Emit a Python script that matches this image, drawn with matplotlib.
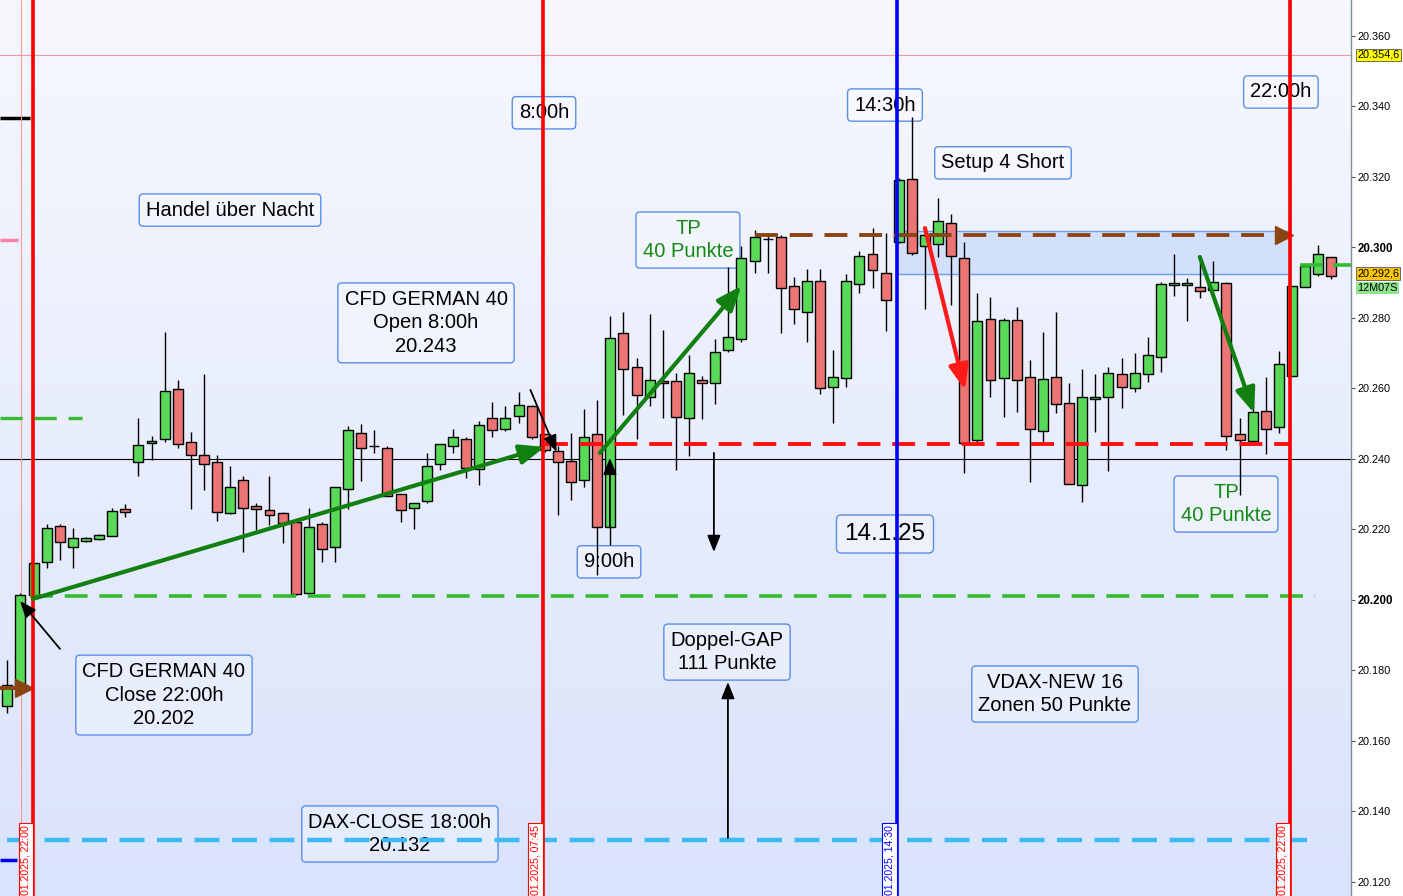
import numpy as np
import matplotlib
matplotlib.use('Agg')
import matplotlib.pyplot as plt
from matplotlib.colors import LinearSegmentedColormap
from matplotlib.patches import Rectangle

plt.rcParams['font.family'] = ['Liberation Sans', 'DejaVu Sans']
plt.rcParams['lines.scale_dashes'] = False

# ---------------- data (CFD GERMAN 40, 15-min candles) ----------------
opens = [20169.9, 20175.3, 20201.4, 20210.8, 20221.0, 20215.0, 20216.7, 20217.3, 20218.2, 20225.8,
         20239.1, 20244.5, 20245.7, 20259.9, 20244.8, 20241.1, 20239.1, 20224.7, 20234.0, 20226.7,
         20225.5, 20224.7, 20222.1, 20202.0, 20221.6, 20215.0, 20231.5, 20247.4, 20243.7, 20243.1,
         20230.1, 20226.1, 20228.1, 20238.6, 20243.7, 20245.7, 20237.2, 20251.6, 20248.5, 20252.2,
         20255.0, 20247.1, 20242.3, 20239.4, 20234.0, 20247.1, 20220.7, 20275.7, 20266.1, 20257.6,
         20262.1, 20262.1, 20251.6, 20262.4, 20261.6, 20270.9, 20274.0, 20296.2, 20302.4, 20303.0,
         20289.1, 20281.7, 20290.5, 20260.4, 20263.0, 20289.6, 20298.2, 20292.8, 20301.6, 20319.4,
         20300.4, 20301.0, 20307.0, 20297.0, 20245.4, 20279.7, 20263.0, 20279.4, 20263.3, 20247.9,
         20263.3, 20255.9, 20232.6, 20257.0, 20257.6, 20264.1, 20260.1, 20264.1, 20268.9, 20289.4,
         20289.4, 20288.8, 20288.0, 20289.9, 20247.1, 20245.1, 20253.6, 20249.1, 20263.5, 20288.8,
         20292.5, 20297.3]
highs = [20183.0, 20202.0, 20210.5, 20221.6, 20221.6, 20220.4, 20217.9, 20218.7, 20226.1, 20227.2,
         20251.6, 20246.5, 20276.0, 20262.4, 20247.7, 20264.1, 20241.1, 20238.0, 20235.2, 20227.5,
         20235.2, 20225.0, 20222.7, 20226.1, 20222.1, 20232.1, 20249.4, 20250.0, 20248.2, 20243.7,
         20230.1, 20227.5, 20241.7, 20244.3, 20248.5, 20246.2, 20250.8, 20256.2, 20255.0, 20259.0,
         20255.3, 20247.1, 20243.7, 20247.4, 20254.2, 20256.7, 20280.6, 20281.7, 20268.7, 20281.1,
         20276.6, 20264.4, 20269.5, 20263.5, 20274.0, 20294.5, 20300.4, 20305.0, 20303.5, 20303.5,
         20291.6, 20293.9, 20293.9, 20270.9, 20292.5, 20299.0, 20305.5, 20304.1, 20319.7, 20337.0,
         20304.4, 20314.0, 20309.5, 20301.6, 20287.1, 20286.0, 20280.0, 20283.1, 20268.1, 20276.0,
         20281.7, 20261.6, 20265.5, 20264.1, 20266.1, 20268.7, 20270.1, 20274.6, 20290.2, 20298.2,
         20291.3, 20297.3, 20296.2, 20290.2, 20251.6, 20259.6, 20263.3, 20270.6, 20289.1, 20295.6,
         20300.7, 20297.3]
lows = [20167.9, 20175.0, 20201.4, 20209.1, 20211.3, 20209.1, 20216.4, 20217.0, 20218.2, 20223.5,
        20235.2, 20239.7, 20244.8, 20243.1, 20225.8, 20231.2, 20222.4, 20224.4, 20213.6, 20219.9,
        20221.3, 20216.2, 20201.4, 20201.4, 20210.8, 20210.8, 20225.8, 20233.8, 20241.7, 20229.5,
        20222.1, 20220.1, 20227.5, 20236.9, 20241.7, 20234.6, 20232.6, 20246.2, 20247.9, 20250.2,
        20245.7, 20242.0, 20224.1, 20228.4, 20232.1, 20207.1, 20215.6, 20252.5, 20245.7, 20255.0,
        20251.6, 20236.9, 20240.9, 20251.3, 20255.6, 20270.4, 20273.2, 20292.8, 20292.8, 20275.7,
        20278.3, 20273.2, 20258.4, 20250.2, 20260.4, 20287.1, 20288.5, 20276.3, 20301.3, 20297.9,
        20282.6, 20297.3, 20283.7, 20236.0, 20244.8, 20257.6, 20251.9, 20253.3, 20233.5, 20244.8,
        20253.0, 20232.9, 20227.8, 20247.7, 20236.6, 20254.5, 20259.0, 20261.8, 20264.7, 20286.2,
        20279.1, 20285.7, 20288.0, 20242.6, 20229.8, 20244.5, 20241.4, 20247.4, 20263.5, 20288.8,
        20291.9, 20291.1]
closes = [20175.9, 20201.4, 20210.5, 20220.4, 20216.5, 20217.6, 20217.6, 20218.4, 20225.3, 20225.0,
          20244.0, 20245.1, 20259.3, 20244.3, 20241.1, 20238.6, 20225.0, 20232.1, 20226.1, 20225.8,
          20224.1, 20221.8, 20201.7, 20220.7, 20214.5, 20232.1, 20248.2, 20243.1, 20243.7, 20229.5,
          20225.5, 20227.5, 20238.0, 20244.3, 20246.2, 20237.4, 20249.6, 20248.2, 20251.6, 20255.3,
          20246.2, 20242.6, 20239.1, 20233.5, 20246.2, 20220.7, 20274.3, 20265.5, 20258.2, 20262.4,
          20261.6, 20251.9, 20264.4, 20261.6, 20270.4, 20274.6, 20297.0, 20303.0, 20302.4, 20288.5,
          20282.6, 20290.5, 20260.1, 20263.3, 20290.5, 20297.6, 20293.6, 20285.1, 20319.1, 20298.4,
          20303.5, 20307.5, 20297.6, 20244.5, 20279.1, 20262.4, 20279.4, 20262.4, 20248.5, 20262.7,
          20255.6, 20232.9, 20257.6, 20257.6, 20264.4, 20260.4, 20264.4, 20269.5, 20289.6, 20290.0,
          20290.0, 20287.7, 20290.2, 20246.5, 20245.4, 20253.3, 20248.5, 20267.0, 20289.1, 20294.8,
          20298.2, 20291.9]

price_ticks = [20120, 20140, 20160, 20180, 20200, 20220, 20240, 20260, 20280, 20300, 20320, 20340, 20360]
bold_ticks = [20200, 20300]

# key levels
cfd_close_level = 20201.0
cfd_open_level = 20244.1
dax_close_level = 20132.0
short_level = 20303.5
zone_low, zone_high = 20292.5, 20304.7
round_level = 20240.0
high_marker = 20354.6
last_price = 20292.6
timer_label = '12M07S'
right_tp_level = 20295.0
prev_levels = {'black': 20336.7, 'pink': 20302.1, 'blue': 20126.2}
prev_green_level = 20251.6
prev_brown_level = 20175.0

# session separators (candle index position, colour, visible label)
sessions = [(1.95, '#ff0000', '01.2025, 22:00'),
            (40.85, '#ff0000', '01.2025, 07:45'),
            (67.85, '#0000ff', '01.2025, 14:30'),
            (97.85, '#ff0000', '01.2025, 22:00')]


def de_price(v, dec=0):
    """German style: 20.354,6"""
    s = f'{v:,.{dec}f}'
    return s.replace(',', '#').replace('.', ',').replace('#', '.')


# ---------------- figure ----------------
W, H = 1403, 896
fig = plt.figure(figsize=(W / 100, H / 100), dpi=100)
fig.patch.set_facecolor('white')
ax = fig.add_axes([0, 0, 1351 / W, 1])
XMIN, XMAX = -0.557, 102.5
YMIN, YMAX = 20116.0, 20370.2
ax.set_xlim(XMIN, XMAX)
ax.set_ylim(YMIN, YMAX)

cmap = LinearSegmentedColormap.from_list('bg', ['#f7f8fe', '#d9e3fb'])
ax.imshow(np.linspace(0, 1, 256).reshape(-1, 1), extent=[XMIN, XMAX, YMIN, YMAX],
          aspect='auto', cmap=cmap, zorder=0, interpolation='bilinear')

# zone
ax.add_patch(Rectangle((67.86, zone_low), 97.84 - 67.86, zone_high - zone_low,
                       facecolor='#d3e0fb', edgecolor='#6d9cf0', lw=1.0, zorder=1))

# thin horizontal lines
ax.axhline(high_marker, color='#f09a9a', lw=0.8, zorder=2)
ax.axhline(round_level, color='black', lw=0.8, zorder=2)

# previous-day stubs at left edge
ax.plot([XMIN, 1.73], [prev_levels['black']] * 2, color='black', lw=2.5, zorder=2, solid_capstyle='butt')
ax.plot([XMIN, 0.82], [prev_levels['pink']] * 2, color='#ff80a8', lw=2.5, zorder=2, solid_capstyle='butt')
ax.plot([XMIN, 0.74], [prev_levels['blue']] * 2, color='#0000ee', lw=2.5, zorder=2, solid_capstyle='butt')
ax.plot([XMIN, 5.7], [prev_green_level] * 2, color='#33bb33', lw=2.4, dashes=(16, 8.5), zorder=4)

# text boxes
box_kw = dict(boxstyle='round,pad=0.33,rounding_size=0.2', fc=(1, 1, 1, 0.3), ec='#5b8ee8', lw=1.0)
notes = [
    (16.99, 20310.6, 'Handel über Nacht', 'black', 14.5),
    (31.94, 20278.6, 'CFD GERMAN 40\nOpen 8:00h\n20.243', 'black', 14.5),
    (40.94, 20338.2, '8:00h', 'black', 14.5),
    (51.92, 20302.1, 'TP\n40 Punkte', '#148a14', 14.5),
    (66.95, 20340.4, '14:30h', 'black', 14.5),
    (75.95, 20324.0, 'Setup 4 Short', 'black', 14.5),
    (97.15, 20344.1, '22:00h', 'black', 14.5),
    (11.95, 20173.0, 'CFD GERMAN 40\nClose 22:00h\n20.202', 'black', 14.5),
    (45.90, 20210.8, '9:00h', 'black', 14.5),
    (66.95, 20218.7, '14.1.25', 'black', 17.5),
    (54.90, 20185.2, 'Doppel-GAP\n111 Punkte', 'black', 14.5),
    (79.92, 20173.3, 'VDAX-NEW 16\nZonen 50 Punkte', 'black', 14.5),
    (29.95, 20133.6, 'DAX-CLOSE 18:00h\n20.132', 'black', 14.5),
    (92.96, 20227.2, 'TP\n40 Punkte', '#148a14', 14.5),
]
for x, y, s, c, fs in notes:
    ax.text(x, y, s, ha='center', va='center', fontsize=fs, color=c, linespacing=1.32,
            bbox=box_kw, zorder=1.5)

# candles
idx = np.arange(len(opens))
o = np.array(opens); h = np.array(highs); l = np.array(lows); c = np.array(closes)
up = c >= o
ax.vlines(idx, l, h, color='black', lw=1.0, zorder=3)
ax.bar(idx, c - o, bottom=o, width=0.76,
       color=np.where(up, '#58da58', '#ec7474'), edgecolor='black', linewidth=1.0, zorder=3.5)

# dashed levels
ax.plot([1.75, 99.75], [cfd_close_level] * 2, color='#33bb33', lw=2.6, dashes=(16.5, 8.5), zorder=4)
ax.plot([41.0, 97.84], [cfd_open_level] * 2, color='#ff1010', lw=2.8, dashes=(16.5, 8.5), zorder=4)
ax.plot([57.0, 96.9], [short_level] * 2, color='#8b4513', lw=2.8, dashes=(16.5, 8.5), zorder=4)
ax.plot([97.4], [short_level], marker='>', ms=13, color='#8b4513', zorder=4)
ax.plot([XMIN, 0.9], [prev_brown_level] * 2, color='#8b4513', lw=2.8, zorder=4)
ax.plot([1.27], [prev_brown_level], marker='>', ms=13, color='#8b4513', zorder=4)
ax.plot([0.0, 99.8], [dax_close_level] * 2, color='#3db9f5', lw=3.2, dashes=(18, 9), zorder=4)
ax.plot([98.6, XMAX], [right_tp_level] * 2, color='#33bb33', lw=2.6, dashes=(16, 8), zorder=4)

# vertical session lines and date boxes (box runs off the bottom edge)
ax.axvline(1.04, color='#ff9a9a', lw=0.8, zorder=2)
for x, col, lab in sessions:
    ax.axvline(x, color=col, lw=2.6, zorder=5)
    ax.text(x - 0.55, 20116.4, lab, rotation=90, ha='center', va='bottom', fontsize=7.6, color=col,
            bbox=dict(boxstyle='square,pad=0.2', fc='white', ec=col, lw=0.8), zorder=5.5,
            clip_on=True)

# arrows
def arrow(x0, y0, x1, y1, color, lw, ms, hl, hw):
    ax.annotate('', xy=(x1, y1), xytext=(x0, y0),
                arrowprops=dict(arrowstyle=f'-|>,head_length={hl},head_width={hw}', color=color,
                                lw=lw, shrinkA=0, shrinkB=0, mutation_scale=ms), zorder=6)

arrow(1.96, 20200.3, 41.0, 20243.4, '#118011', 3.0, 20, 0.75, 0.3)
arrow(45.2, 20241.7, 56.0, 20289.1, '#118011', 3.0, 20, 0.75, 0.3)
arrow(70.0, 20305.5, 73.05, 20259.6, '#ff1a1a', 3.0, 20, 0.75, 0.3)
arrow(90.97, 20297.3, 95.1, 20253.0, '#118011', 3.0, 20, 0.75, 0.3)
arrow(4.02, 20186.1, 0.97, 20199.7, 'black', 1.3, 10, 1.0, 0.4)
arrow(39.9, 20259.6, 41.9, 20242.0, 'black', 1.3, 10, 1.0, 0.4)
arrow(45.97, 20220.7, 45.97, 20240.3, 'black', 1.3, 10, 1.0, 0.4)
arrow(53.9, 20241.7, 53.9, 20213.6, 'black', 1.3, 10, 1.0, 0.4)
arrow(54.97, 20132.5, 54.97, 20176.7, 'black', 1.3, 10, 1.0, 0.4)

# axes styling
for s in ['top', 'left', 'bottom']:
    ax.spines[s].set_visible(False)
ax.spines['right'].set_color('#7f8c99')
ax.spines['right'].set_linewidth(1.0)
ax.set_xticks([])
ax.yaxis.tick_right()
ax.set_yticks(price_ticks)
ax.set_yticklabels([de_price(v) for v in price_ticks])
ax.tick_params(axis='y', direction='out', length=3, width=0.8, color='#555555', pad=1.5,
               labelsize=7.8)
for t, v in zip(ax.get_yticklabels(), price_ticks):
    if v in bold_ticks:
        t.set_fontweight('bold')
        t.set_fontsize(8.3)

yt = ax.get_yaxis_transform()
ax.text(1.0045, high_marker, de_price(high_marker, 1), transform=yt, ha='left', va='center',
        fontsize=7.8, bbox=dict(boxstyle='square,pad=0.12', fc='#ffff00', ec='#555555', lw=0.6),
        clip_on=False)
ax.text(1.0045, last_price, de_price(last_price, 1), transform=yt, ha='left', va='center',
        fontsize=7.8, bbox=dict(boxstyle='square,pad=0.12', fc='#fbc600', ec='#555555', lw=0.6),
        clip_on=False)
ax.text(1.0045, last_price - 4.1, timer_label, transform=yt, ha='left', va='center', fontsize=7.8,
        bbox=dict(boxstyle='square,pad=0.12', fc='#8fe58f', ec='none'), clip_on=False)

fig.savefig('out.png', dpi=100)
